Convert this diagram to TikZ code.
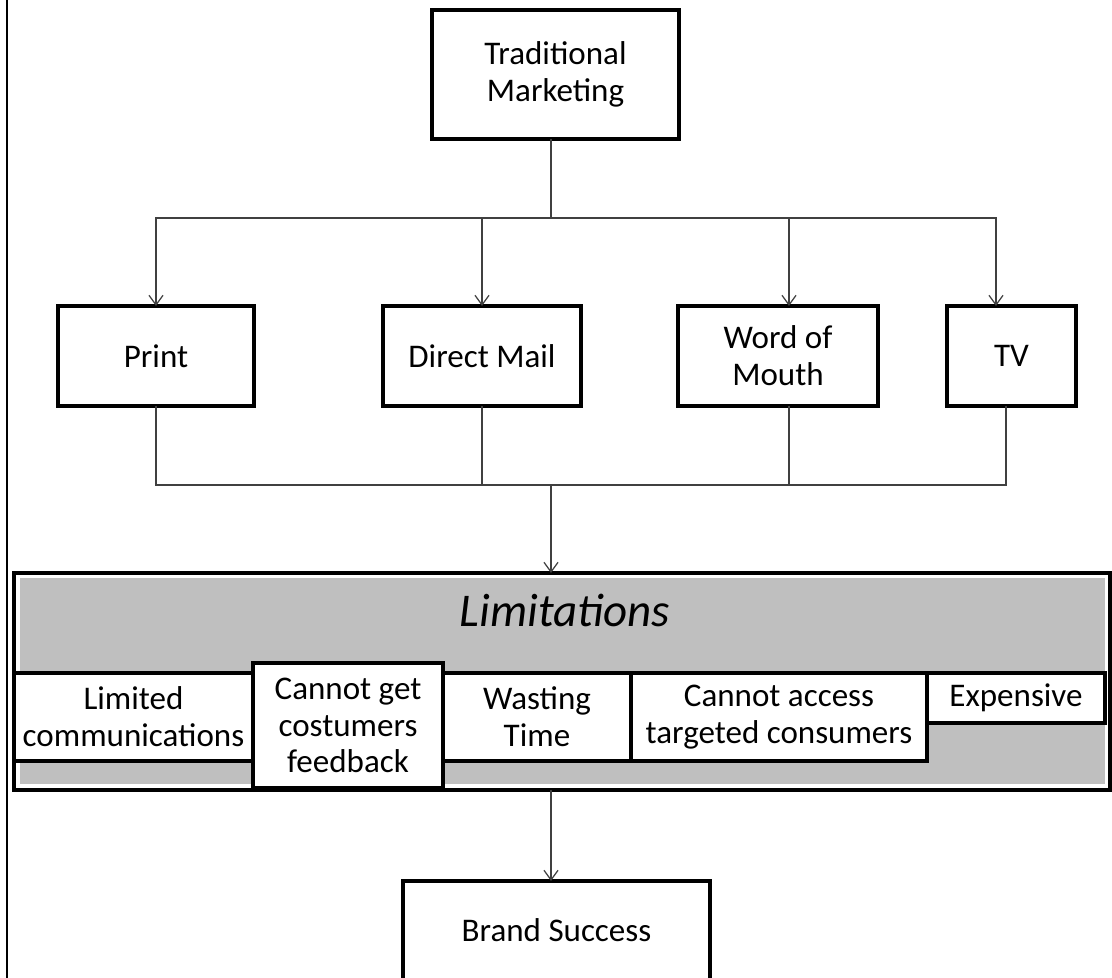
\documentclass[tikz,border=0pt]{standalone}
\usepackage{fontspec}
\setmainfont{Carlito}
\usetikzlibrary{arrows.meta, positioning, calc}
\definecolor{lineGray}{RGB}{64, 64, 64}
\definecolor{bandGray}{RGB}{191, 191, 191}
\tikzset{
    % Base style for all blocks
    block/.style={
        rectangle,
        draw=black,
        line width=2.1pt,
        fill=white,
        outer sep=0pt,
        inner sep=2pt,
        align=center,
        font=\fontsize{18.8}{21}\selectfont
    },
    % Specific styles
    channelBox/.style={block, minimum height=2.0cm},
    limitItem/.style={block, anchor=north west, minimum height=1.76cm},
    % Arrow and Label styles
    arrow/.style={-{Straight Barb[length=5.5pt,width=8pt]}, line width=0.7pt, draw=lineGray},
    link/.style={line width=0.7pt, draw=lineGray},
    bandLabel/.style={font=\itshape\fontsize{26.7}{30}\selectfont}
}

\begin{document}
\begin{tikzpicture}

    \useasboundingbox (0,0) rectangle (22.24,19.56);
    % rule at the left edge
    \draw [line width=1.1pt] (0.14,0) -- (0.14,19.56);

    % --- TOP ---
    \node (tm) [block, minimum width=4.94cm, minimum height=2.58cm] at (11.11,18.07) {
        Traditional \\
        Marketing
    };

    % --- CHANNELS ---
    \node (print) [channelBox, minimum width=3.92cm] at (3.12,12.44) {Print};
    \node (mail) [channelBox, minimum width=3.96cm] at (9.64,12.44) {Direct Mail};
    \node (mouth) [channelBox, minimum width=4.0cm] at (15.56,12.44) {
        Word of \\
        Mouth
    };
    \node (tv) [channelBox, minimum width=2.58cm] at (20.23,12.44) {TV};

    % --- LIMITATIONS ---
    \node (limits) [block, minimum width=21.92cm, minimum height=4.34cm] at (11.24,5.93) {};
    \fill [bandGray] ([shift={(0.11,-0.11)}]limits.north west) rectangle ([shift={(-0.11,0.11)}]limits.south east);
    \node (limTitle) [bandLabel] at (11.30,7.36) {Limitations};

    % 1. left item
    \node (lim1) [limitItem, minimum width=4.78cm] at (0.28,6.10) {
        Limited \\
        communications
    };
    % 2. taller item
    \node (lim2) [block, anchor=north west, minimum width=3.80cm, minimum height=2.50cm] at ($(lim1.north east)+(0,0.20)$) {
        Cannot get \\
        costumers \\
        feedback
    };
    % 3.-5. rest of the row
    \node (lim3) [limitItem, minimum width=3.76cm] at (lim2.east |- lim1.north) {
        Wasting \\
        Time
    };
    \node (lim4) [limitItem, minimum width=5.92cm, right=0pt of lim3] {
        Cannot access \\
        targeted consumers
    };
    \node (lim5) [limitItem, minimum width=3.56cm, minimum height=1.0cm] at (lim4.north east) {Expensive};

    % --- BOTTOM ---
    \node (brand) [block, minimum width=6.14cm, minimum height=1.98cm] at (11.13,0.95) {Brand Success};

    % --- Connectors ---
    \coordinate (fork) at (11.02,15.20);
    \coordinate (join) at (11.02,9.86);

    \draw [link] (tm.south -| fork) -- (fork);
    \draw [arrow] (fork) -| (print.north);
    \draw [arrow] (fork) -| (mail.north);
    \draw [arrow] (fork) -| ([xshift=0.22cm]mouth.north);
    \draw [arrow] (fork) -| ([xshift=-0.31cm]tv.north);

    \draw [link] (print.south) |- (join);
    \draw [link] (mail.south) |- (join);
    \draw [link] ([xshift=0.22cm]mouth.south) |- (join);
    \draw [link] ([xshift=-0.11cm]tv.south) |- (join);

    \draw [arrow] (join) -- (join |- limits.north);
    \draw [arrow] (join |- limits.south) -- (join |- brand.north);

\end{tikzpicture}
\end{document}
